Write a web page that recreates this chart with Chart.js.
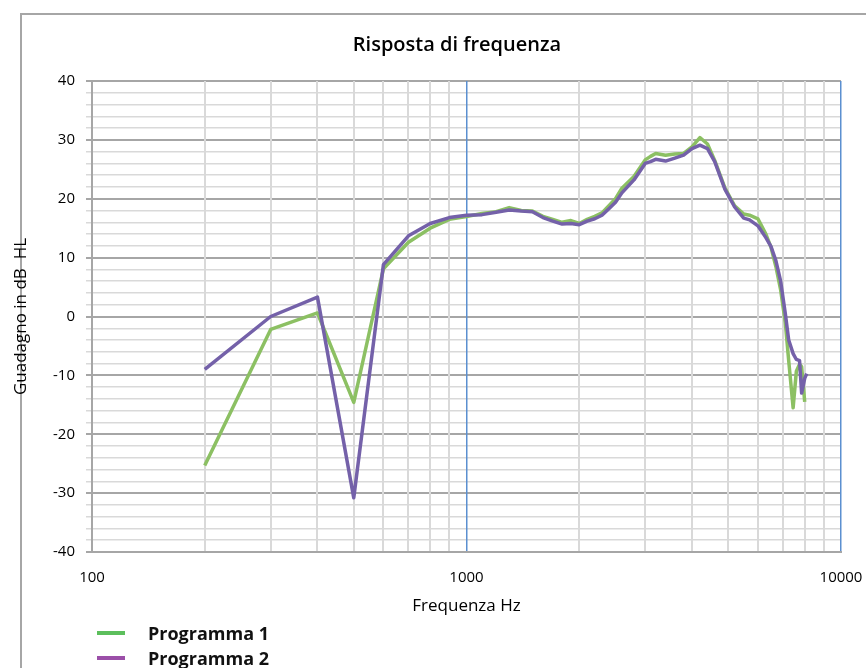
<!DOCTYPE html>
<html>
<head>
<meta charset="utf-8">
<script src="https://cdn.jsdelivr.net/npm/chart.js@4.4.1/dist/chart.umd.min.js"></script>
<style>
  html, body { margin: 0; padding: 0; background: #fff; }
  #wrap { position: relative; width: 866px; height: 668px; overflow: hidden; }
  #frame { position: absolute; left: 20px; top: 13px; width: 900px; height: 700px;
           border-left: 2px solid #a6a6a6; border-top: 2px solid #a6a6a6; }
  #chart { position: absolute; left: 0; top: 0; }
  #title { position: absolute; left: 0; width: 914px; top: 30px; text-align: center;
           font-family: 'Open Sans', sans-serif; font-weight: 600; font-size: 20px;
           line-height: 28px; color: #000; }
  #legend { position: absolute; left: 97px; top: 620px; font-family: 'Open Sans', sans-serif;
            font-weight: 700; font-size: 18px; color: #111; }
  .item { display: flex; align-items: center; height: 25px; }
  .swatch { width: 28px; height: 4px; margin-right: 23px; }
</style>
</head>
<body>
<div id="wrap">
  <div id="frame"></div>
  <canvas id="chart" width="866" height="668"></canvas>
  <div id="title">Risposta di frequenza</div>
  <div id="legend"></div>
</div>
<script>
// Frequencies (Hz) shared by both programs
const freqs = [200, 300, 400, 500, 600, 700, 800, 900,
    1000, 1100, 1200, 1300, 1400, 1500, 1600, 1700, 1800, 1900,
    2000, 2100, 2200, 2300, 2400, 2500, 2600, 2800,
    3000, 3100, 3200, 3400, 3600, 3800, 4000, 4200, 4400, 4600, 4900,
    5200, 5500, 5700, 6000, 6300, 6500, 6700, 6900,
    7100, 7250, 7450, 7600, 7750, 7850, 8000, 8100];

// Gain in dB HL
const prog1 = [-25.3, -2.2, 0.6, -14.6, 8.1, 12.6, 15.0, 16.5,
    17.0, 17.5, 17.8, 18.5, 18.0, 17.9, 17.0, 16.5, 16.0, 16.3,
    15.8, 16.5, 17.0, 17.6, 18.8, 20.0, 21.8, 23.8,
    26.6, 27.2, 27.7, 27.4, 27.6, 27.7, 28.8, 30.4, 29.3, 26.5, 21.8,
    18.8, 17.4, 17.2, 16.6, 14.0, 11.8, 8.5, 4.5,
    -1.0, -7.5, -15.5, -9.3, -8.1, -8.5, -14.5, null];

const prog2 = [-9.0, 0.0, 3.3, -30.8, 8.8, 13.7, 15.8, 16.8,
    17.2, 17.3, 17.7, 18.1, 17.9, 17.8, 16.8, 16.2, 15.7, 15.8,
    15.6, 16.2, 16.6, 17.2, 18.3, 19.4, 21.0, 23.2,
    26.0, 26.3, 26.7, 26.4, 26.9, 27.4, 28.5, 29.1, 28.5, 26.3, 21.6,
    18.6, 16.7, 16.4, 15.4, 13.4, 11.9, 9.5, 6.0,
    0.5, -4.0, -6.3, -7.3, -7.5, -13.0, -10.5, -9.7];

const seriesNames = ['Programma 1', 'Programma 2'];
const lineColors = ['#8cc063', '#7461a9'];
const legendColors = ['#5cbf5c', '#9b4fa8'];

// Axis ticks / grid
const gridFreqs = [100, 200, 300, 400, 500, 600, 700, 800, 900,
    1000, 2000, 3000, 4000, 5000, 6000, 7000, 8000, 9000, 10000];
const xLabels = [100, 1000, 10000];
const yMin = -40;
const yMax = 40;

function toPoints(vals) {
    return freqs.map((f, i) => ({ x: f, y: vals[i] }));
}

const tickFont = { family: "'Open Sans', sans-serif", size: 15 };
const titleFont = { family: "'Open Sans', sans-serif", size: 17 };

const ctx = document.getElementById('chart').getContext('2d');
const chart = new Chart(ctx, {
    type: 'line',
    data: {
        datasets: [{
            label: seriesNames[0],
            data: toPoints(prog1),
            borderColor: lineColors[0],
            order: 2
        }, {
            label: seriesNames[1],
            data: toPoints(prog2),
            borderColor: lineColors[1],
            order: 1
        }]
    },
    options: {
        responsive: false,
        animation: false,
        devicePixelRatio: 1,
        layout: { autoPadding: false, padding: { left: 0, right: 25, top: 81, bottom: 52 } },
        elements: {
            line: { borderWidth: 3.5, tension: 0, borderJoinStyle: 'round' },
            point: { radius: 0 }
        },
        plugins: {
            legend: { display: false },
            tooltip: { enabled: false },
            title: { display: false }
        },
        scales: {
            x: {
                type: 'logarithmic',
                min: 100,
                max: 10000,
                afterBuildTicks: function(scale) {
                    scale.ticks = gridFreqs.map(v => ({ value: v }));
                },
                afterFit: function(scale) { scale.height = 64; },
                ticks: {
                    autoSkip: false,
                    maxRotation: 0,
                    padding: 0,
                    color: '#000',
                    font: tickFont,
                    callback: function(value) {
                        return xLabels.includes(value) ? String(value) : '';
                    }
                },
                grid: {
                    z: -1,
                    drawTicks: true,
                    tickLength: 17,
                    tickColor: 'rgba(0,0,0,0)',
                    color: c => (c.tick && (c.tick.value === 1000 || c.tick.value === 10000)) ? '#5b8fd0' : '#d9d9d9',
                    lineWidth: c => (c.tick && (c.tick.value === 1000 || c.tick.value === 10000)) ? 1.5 : 2
                },
                border: { color: '#a6a6a6', width: 2 },
                title: {
                    display: true,
                    text: 'Frequenza Hz',
                    color: '#000',
                    font: titleFont,
                    padding: { top: 4, bottom: 0 }
                }
            },
            y: {
                min: yMin,
                max: yMax,
                afterFit: function(scale) { scale.width = 92; },
                ticks: {
                    stepSize: 2,
                    autoSkip: false,
                    padding: 11,
                    color: '#000',
                    font: tickFont,
                    callback: function(value) {
                        return value % 10 === 0 ? String(value) : '';
                    }
                },
                grid: {
                    z: -2,
                    tickLength: 6,
                    color: c => (c.tick && c.tick.value % 10 === 0) ? '#a6a6a6' : '#d9d9d9',
                    lineWidth: c => (c.tick && c.tick.value % 10 === 0) ? 2 : 1.5
                },
                border: { color: '#a6a6a6', width: 2 },
                title: {
                    display: true,
                    text: 'Guadagno in dB  HL',
                    color: '#000',
                    font: titleFont,
                    padding: { top: 11, bottom: 0 }
                }
            }
        }
    }
});

// HTML legend, stacked vertically like the original
const legendEl = document.getElementById('legend');
chart.data.datasets.forEach((ds, i) => {
    const item = document.createElement('div');
    item.className = 'item';
    const sw = document.createElement('span');
    sw.className = 'swatch';
    sw.style.background = legendColors[i];
    const txt = document.createElement('span');
    txt.textContent = ds.label;
    item.appendChild(sw);
    item.appendChild(txt);
    legendEl.appendChild(item);
});
</script>
</body>
</html>
